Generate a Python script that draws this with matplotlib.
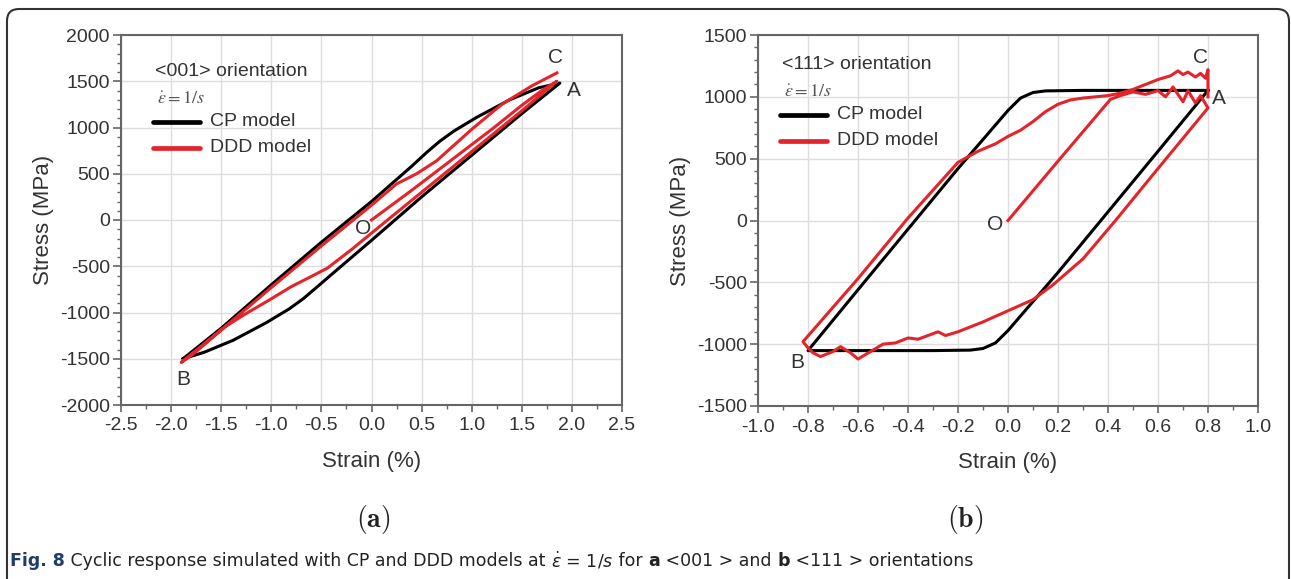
import matplotlib
matplotlib.use("Agg")
import matplotlib.pyplot as plt
from matplotlib.patches import FancyBboxPatch
from matplotlib.ticker import MultipleLocator

plt.rcParams["axes.unicode_minus"] = False

# ---- panel (a): <001> orientation ----
cp_a_strain = [-1.88, -1.5, -1.0, -0.5, 0.0, 0.4, 0.55, 0.68, 0.82, 1.05, 1.38, 1.67, 1.88,
               1.5, 1.0, 0.5, 0.0, -0.4, -0.55, -0.68, -0.82, -1.05, -1.38, -1.67, -1.88]
cp_a_stress = [-1500, -1170, -700, -240, 200, 580, 730, 850, 960, 1110, 1300, 1430, 1480,
               1150, 700, 250, -220, -590, -730, -850, -960, -1110, -1300, -1430, -1500]

ddd_a_strain = [0.0, 0.4, 0.8, 1.2, 1.5, 1.7, 1.85,
                1.5, 1.0, 0.5, 0.16, -0.2, -0.44, -0.6, -0.8, -1.02, -1.25, -1.47, -1.65, -1.78, -1.9,
                -1.5, -1.0, -0.5, 0.0, 0.25, 0.45, 0.65, 1.0, 1.3, 1.6, 1.85]
ddd_a_stress = [0, 320, 650, 980, 1240, 1400, 1500,
                1180, 740, 300, 0, -320, -520, -610, -720, -865, -1010, -1160, -1330, -1450, -1540,
                -1190, -730, -280, 160, 390, 500, 640, 980, 1250, 1450, 1590]

labels_a = {"C": (1.84, 1760), "A": (2.02, 1400), "O": (-0.08, -90), "B": (-1.88, -1720)}

# ---- panel (b): <111> orientation ----
cp_b_strain = [0.8, 0.6, 0.4, 0.2, 0.0, -0.05, -0.1, -0.15, -0.3, -0.5, -0.8,
               -0.6, -0.4, -0.2, 0.0, 0.05, 0.1, 0.15, 0.3, 0.5, 0.8]
cp_b_stress = [1052, 560, 70, -420, -890, -990, -1035, -1048, -1052, -1052, -1052,
               -560, -70, 420, 890, 990, 1035, 1048, 1052, 1052, 1052]

ddd_b_strain = [0.0, 0.2, 0.41, 0.45, 0.5, 0.55, 0.6, 0.63, 0.66, 0.7, 0.72, 0.75, 0.77, 0.8,
                0.6, 0.43, 0.3, 0.18, 0.1, 0.0, -0.1, -0.2, -0.25, -0.28, -0.32, -0.36, -0.4,
                -0.45, -0.5, -0.55, -0.6, -0.63, -0.67, -0.7, -0.75, -0.78, -0.8, -0.82,
                -0.6, -0.4, -0.2, -0.12, -0.05, 0.0, 0.05, 0.1, 0.15, 0.2, 0.25, 0.3, 0.35, 0.4,
                0.45, 0.5, 0.55, 0.6, 0.65, 0.68, 0.7, 0.72, 0.75, 0.77, 0.79, 0.8, 0.8]
ddd_b_stress = [0, 480, 980, 1010, 1040, 1020, 1050, 1000, 1080, 960, 1050, 950, 1010, 910,
                420, 0, -310, -520, -640, -730, -820, -900, -930, -900, -930, -960, -950,
                -990, -1000, -1060, -1120, -1070, -1020, -1060, -1100, -1070, -1030, -980,
                -470, 20, 470, 560, 620, 680, 730, 800, 880, 940, 975, 990, 1000, 1010,
                1030, 1060, 1100, 1140, 1170, 1210, 1180, 1200, 1160, 1190, 1150, 1220, 1000]

labels_b = {"C": (0.77, 1320), "A": (0.845, 990), "O": (-0.05, -30), "B": (-0.845, -1150)}

W, H = 1291, 579
fig = plt.figure(figsize=(W / 100, H / 100), dpi=100)
fig.patch.set_facecolor("white")

txt = "#333333"
red = "#e3242b"
sans = ["Liberation Sans", "DejaVu Sans"]


def make_axes(rect, xlim, ylim, xmaj, xmin, ymaj, ymin):
    ax = fig.add_axes(rect)
    ax.set_xlim(*xlim)
    ax.set_ylim(*ylim)
    ax.xaxis.set_major_locator(MultipleLocator(xmaj))
    ax.xaxis.set_minor_locator(MultipleLocator(xmin))
    ax.yaxis.set_major_locator(MultipleLocator(ymaj))
    ax.yaxis.set_minor_locator(MultipleLocator(ymin))
    ax.xaxis.set_major_formatter(plt.FuncFormatter(lambda v, p: "{:.1f}".format(v)))
    ax.grid(True, which="major", color="#dddddd", linewidth=1.0)
    ax.set_axisbelow(True)
    for s in ax.spines.values():
        s.set_color("#666666")
        s.set_linewidth(1.5)
    ax.tick_params(which="major", direction="out", width=1.2, color="#666666",
                   labelcolor=txt, labelsize=14)
    ax.tick_params(axis="y", which="major", length=6, pad=2)
    ax.tick_params(axis="x", which="major", length=5, pad=4)
    ax.tick_params(which="minor", direction="out", length=3, width=1.0, color="#666666")
    for lab in ax.get_xticklabels() + ax.get_yticklabels():
        lab.set_family(sans)
    ax.set_xlabel("Strain (%)", fontsize=16, color=txt, family=sans, labelpad=12)
    ax.set_ylabel("Stress (MPa)", fontsize=16, color=txt, family=sans, labelpad=4)
    return ax


def legend_block(ax, title, x0, y0):
    # positions in axes fraction
    ax.text(x0, y0, title, transform=ax.transAxes, fontsize=14, color=txt, family=sans,
            va="center", ha="left")
    ax.text(x0 + 0.003, y0 - 0.07, r"$\dot{\varepsilon}=1/s$", transform=ax.transAxes,
            fontsize=13, color="#555555", math_fontfamily="stix", va="center", ha="left")
    ax.plot([x0 - 0.005, x0 + 0.09], [y0 - 0.135, y0 - 0.135], color="black", lw=3.4,
            transform=ax.transAxes, solid_capstyle="round")
    ax.text(x0 + 0.11, y0 - 0.135, "CP model", transform=ax.transAxes, fontsize=14,
            color=txt, family=sans, va="center", ha="left")
    ax.plot([x0 - 0.005, x0 + 0.09], [y0 - 0.205, y0 - 0.205], color=red, lw=3.4,
            transform=ax.transAxes, solid_capstyle="round")
    ax.text(x0 + 0.11, y0 - 0.205, "DDD model", transform=ax.transAxes, fontsize=14,
            color=txt, family=sans, va="center", ha="left")


# panel a
ax_a = make_axes([121 / W, 1 - 405 / H, 501 / W, 370 / H], (-2.5, 2.5), (-2000, 2000),
                 0.5, 0.25, 500, 100)
ax_a.plot(cp_a_strain, cp_a_stress, color="black", lw=2.2)
ax_a.plot(ddd_a_strain, ddd_a_stress, color=red, lw=2.2)
for k, (x, y) in labels_a.items():
    ax_a.text(x, y, k, fontsize=15, color=txt, family=sans, ha="center", va="center")
legend_block(ax_a, "<001> orientation", 0.068, 0.9)

# panel b
ax_b = make_axes([758 / W, 1 - 406 / H, 500 / W, 371 / H], (-1.0, 1.0), (-1500, 1500),
                 0.2, 0.1, 500, 100)
ax_b.plot(cp_b_strain, cp_b_stress, color="black", lw=2.2)
ax_b.plot(ddd_b_strain, ddd_b_stress, color=red, lw=2.2)
for k, (x, y) in labels_b.items():
    ax_b.text(x, y, k, fontsize=15, color=txt, family=sans, ha="center", va="center")
legend_block(ax_b, "<111> orientation", 0.048, 0.92)

# sub-figure tags
fig.text(373 / W, 1 - 520 / H, r"$(\mathbf{a})$", fontsize=20, math_fontfamily="cm",
         color="#222222", ha="center", va="center")
fig.text(965 / W, 1 - 520 / H, r"$(\mathbf{b})$", fontsize=20, math_fontfamily="cm",
         color="#222222", ha="center", va="center")

# frame around the figure
frame = FancyBboxPatch((7, -12), 1282, 582, boxstyle="round,pad=0,rounding_size=12",
                       transform=None, fill=False, edgecolor="#333333", linewidth=1.5)
fig.patches.append(frame)

# caption built piece by piece
narrow = ["Liberation Sans Narrow", "DejaVu Sans"]
pieces = [("Fig. 8", "bold"), (" Cyclic response simulated with CP and DDD models at ", "normal"),
          (r"$\dot{\varepsilon}$ = 1/$s$", "normal"), (" for ", "normal"), ("a", "bold"),
          (" <001 > and ", "normal"), ("b", "bold"), (" <111 > orientations", "normal")]
renderer = fig.canvas.get_renderer()
xpos = 10
for s, wgt in pieces:
    t = fig.text(xpos / W, 1 - 561 / H, s, fontsize=12.5, weight=wgt, family=narrow,
                 color="#1f3d6b" if s == "Fig. 8" else "#222222",
                 ha="left", va="center", math_fontfamily="dejavusans")
    xpos += t.get_window_extent(renderer).width

fig.savefig("out.png", dpi=100)
